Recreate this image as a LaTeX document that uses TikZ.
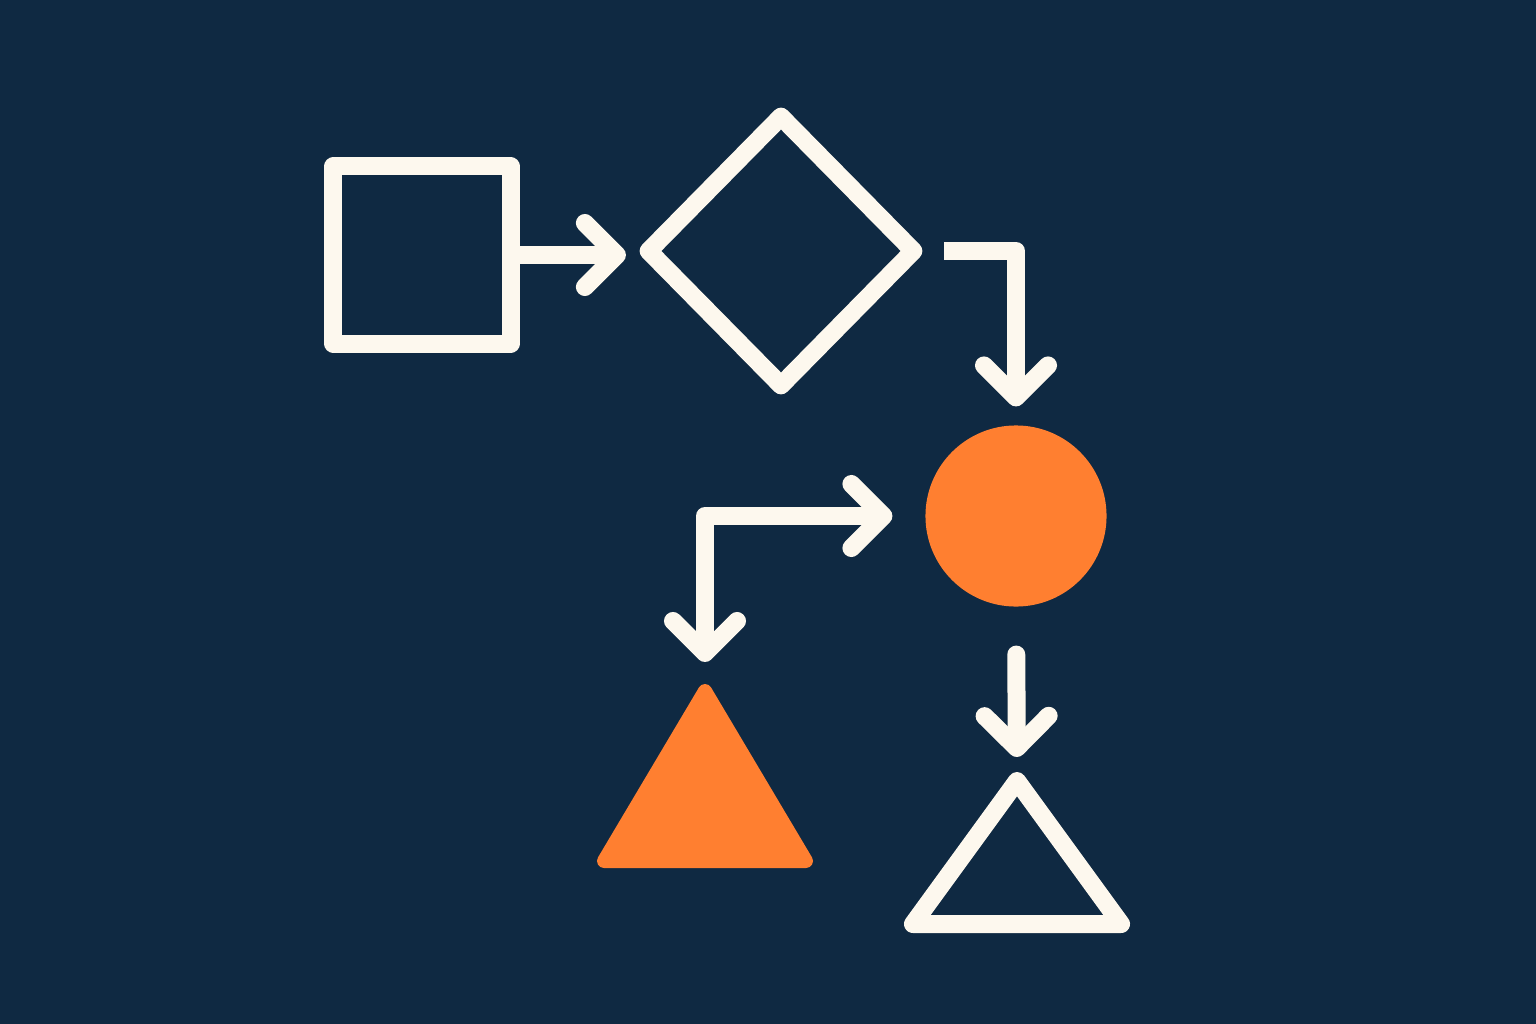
\documentclass[tikz,border=0pt]{standalone}
\usetikzlibrary{arrows.meta,shapes.geometric}

\definecolor{navy}{RGB}{15,41,66}
\definecolor{cream}{RGB}{253,248,238}
\definecolor{accent}{RGB}{255,127,48}

\begin{document}
\begin{tikzpicture}[x=0.01cm,y=-0.01cm,line width=0.18cm,line join=round,
  >={Straight Barb[length=0.32cm,width=0.64cm,round]},
  box/.style={draw=cream,rectangle,minimum size=1.77cm,inner sep=0pt},
  choice/.style={draw=cream,diamond,minimum width=2.72cm,minimum height=2.76cm,inner sep=0pt},
  dot/.style={fill=accent,circle,minimum size=1.81cm,inner sep=0pt,outer sep=0pt},
  link/.style={draw=cream,->}]

\fill[navy] (0,0) rectangle (1536,1024);

\node[box]    (sq)   at (422,255) {};
\node[choice] (dia)  at (781,251) {};
\node[dot]    (circ) at (1016,516) {};

% filled triangle
\coordinate (t1top) at (705,691);
\coordinate (t1l)   at (604,861);
\coordinate (t1r)   at (806,861);
\filldraw[accent,line width=0.14cm] (t1top) -- (t1l) -- (t1r) -- cycle;

% outlined triangle
\coordinate (t2top) at (1017,781);
\coordinate (t2l)   at (913,924);
\coordinate (t2r)   at (1121,924);
\draw[cream] (t2top) -- (t2l) -- (t2r) -- cycle;

\path[link,shorten >=0.1cm] (sq.east) -- (sq.east -| dia.west);
\path[link,shorten <=0.18cm,shorten >=0.19cm] (dia.east) -| (circ.north);
\path[link,<->,shorten <=0.33cm,shorten >=0.29cm] (circ.west) -| (t1top);
\path[link,line cap=round,shorten <=0.48cm,shorten >=0.24cm] (circ.south) -- (t2top);
\end{tikzpicture}
\end{document}
